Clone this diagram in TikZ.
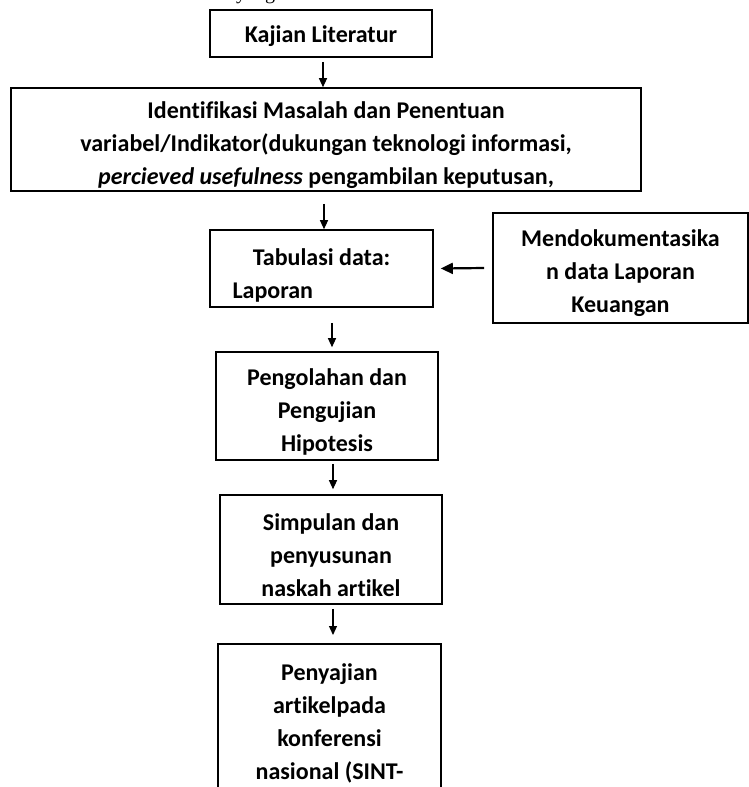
\documentclass[tikz,border=0pt]{standalone}
\usepackage{fontspec}
\setmainfont{Carlito}[Ligatures=NoCommon]
\newfontfamily\capserif{Liberation Serif}
\usetikzlibrary{arrows.meta,calc}

\tikzset{
  stepbox/.style={draw, line width=1.6pt, inner sep=0pt, align=flush center,
    font=\bfseries\fontsize{24}{33}\selectfont},
  lowbox/.style={stepbox, execute at begin node={\rule{0pt}{#1}}},
  lowbox/.default=28pt,
  flow/.style={-{Triangle[length=9pt,width=8pt]}, line width=1.2pt},
  bigflow/.style={-{Triangle[length=12pt,width=11pt]}, line width=2.2pt},
}

\begin{document}
\begin{tikzpicture}[x=1pt,y=-1pt]
\useasboundingbox (0,0) rectangle (749,787);

\node[anchor=base west, inner sep=0pt, font=\capserif\fontsize{20}{24}\selectfont] (caption) at (236,-0.5) {yang};

\node[lowbox=22pt, minimum width=222pt, minimum height=47pt, text width=212pt] (kajian) at (321,33.5) {Kajian Literatur};
\node[lowbox, minimum width=630pt, minimum height=103pt, text width=620pt] (ident) at (326,139.5)
  {Identifikasi Masalah dan Penentuan\\
   variabel/Indikator(dukungan teknologi informasi,\\
   \textit{percieved usefulness} pengambilan keputusan,};
\node[lowbox=30pt, align=flush left, minimum width=223pt, minimum height=77pt, text width=178pt] (tabulasi) at (321.5,268.5)
  {\makebox[178pt]{Tabulasi data:}\\ Laporan};
\node[lowbox, minimum width=255pt, minimum height=110pt, text width=245pt] (mendok) at (620.5,268)
  {Mendokumentasika\\ n data Laporan\\ Keuangan};
\node[lowbox, minimum width=222pt, minimum height=108pt, text width=212pt] (olah) at (327,406)
  {Pengolahan dan\\ Pengujian\\ Hipotesis};
\node[lowbox, minimum width=222pt, minimum height=109pt, text width=212pt] (simpul) at (331,549.5)
  {Simpulan dan\\ penyusunan\\ naskah artikel};
\node[lowbox=32pt, anchor=north, minimum width=223pt, text width=213pt, inner ysep=5pt] (saji) at (329.5,643)
  {Penyajian\\ artikelpada\\ konferensi\\ nasional (SINT-\\ \strut};

\draw[flow] ($(kajian.south)+(2,4)$) -- ($(kajian.south |- ident.north)+(2,0)$);
\draw[flow] ($(tabulasi.north |- ident.south)+(2.5,12)$) -- ($(tabulasi.north)+(2.5,0)$);
\draw[flow] ($(tabulasi.south)+(10.5,15)$) -- ($(olah.north)+(5,-4)$);
\draw[flow] ($(olah.south)+(6,3)$) -- ($(simpul.north)+(2,-5)$);
\draw[flow] ($(simpul.south)+(2,4)$) -- ($(saji.north)+(3.5,-8)$);
\draw[bigflow] ($(mendok.west)+(-8,0)$) -- ($(tabulasi.east)+(7,0)$);

\end{tikzpicture}
\end{document}
